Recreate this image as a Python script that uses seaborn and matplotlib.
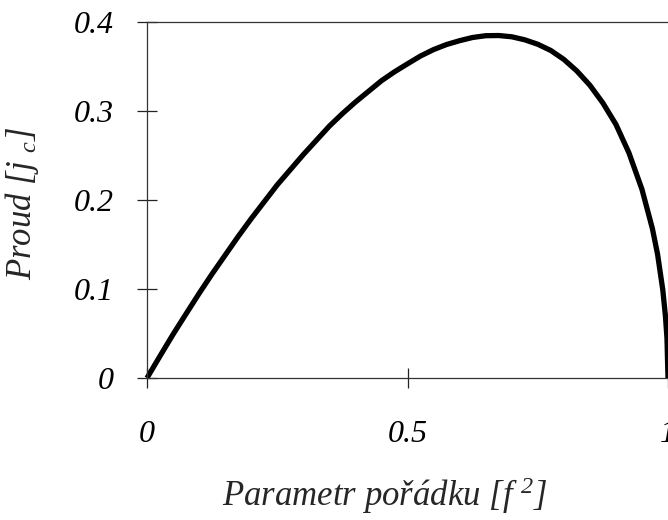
import matplotlib
matplotlib.use("Agg")
import matplotlib.pyplot as plt
import seaborn as sns
import pandas as pd

# data
order_param = [0.0, 0.025, 0.05, 0.075, 0.1, 0.125, 0.15, 0.175, 0.2, 0.225, 0.25, 0.275,
               0.3, 0.325, 0.35, 0.375, 0.4, 0.425, 0.45, 0.475, 0.5, 0.525, 0.55, 0.575,
               0.6, 0.625, 0.65, 0.675, 0.7, 0.725, 0.75, 0.775, 0.8, 0.825, 0.85, 0.875,
               0.9, 0.925, 0.95, 0.97, 0.98, 0.99, 0.995, 0.998, 1.0]
current = [0.0, 0.0247, 0.049, 0.0721, 0.095, 0.117, 0.138, 0.159, 0.179, 0.198, 0.217, 0.234,
           0.251, 0.267, 0.283, 0.297, 0.310, 0.322, 0.334, 0.344, 0.353, 0.3618, 0.369, 0.3747,
           0.379, 0.3826, 0.3846, 0.3848, 0.3834, 0.380, 0.375, 0.368, 0.358, 0.345, 0.329, 0.309,
           0.285, 0.253, 0.212, 0.168, 0.139, 0.099, 0.070, 0.045, 0.0]
x_ticks = [0, 0.5, 1]
x_tick_labels = ["0", "0.5", "1"]
y_ticks = [0, 0.1, 0.2, 0.3, 0.4]
y_tick_labels = ["0", "0.1", "0.2", "0.3", "0.4"]
x_label = "Parametr pořádku [f $^2$]"
y_label = "Proud [j $_c$]"

sns.set_style("white")
plt.rcParams["font.family"] = ["Liberation Serif", "DejaVu Serif"]
plt.rcParams["font.style"] = "italic"
plt.rcParams["mathtext.fontset"] = "custom"
plt.rcParams["mathtext.rm"] = "Liberation Serif:italic"
plt.rcParams["mathtext.it"] = "Liberation Serif:italic"
plt.rcParams["mathtext.default"] = "it"

df = pd.DataFrame({"f2": order_param, "j": current})

fig = plt.figure(figsize=(6.68, 5.2), dpi=100)
ax = fig.add_axes([147 / 668, (520 - 378) / 520, 1 - 147 / 668, (378 - 22) / 520])
sns.lineplot(data=df, x="f2", y="j", ax=ax, color="black", linewidth=3.8, sort=False,
             clip_on=False, solid_capstyle="butt")

ax.set_xlim(0, 1)
ax.set_ylim(0, 0.4)
ax.set_xticks(x_ticks)
ax.set_xticklabels(x_tick_labels)
ax.set_yticks(y_ticks)
ax.set_yticklabels(y_tick_labels)

for s in ["left", "top", "bottom"]:
    ax.spines[s].set_visible(True)
    ax.spines[s].set_color("#333333")
    ax.spines[s].set_linewidth(0.9)
ax.spines["right"].set_visible(False)

ax.tick_params(axis="both", direction="inout", length=14, width=0.9, color="#222222",
               labelsize=23, labelcolor="black")
ax.tick_params(axis="x", pad=23, bottom=True, top=False)
ax.tick_params(axis="y", pad=17, left=True, right=False)

ax.set_xlabel(x_label, fontsize=25, style="italic")
ax.set_ylabel(y_label, fontsize=25, style="italic")
ax.xaxis.set_label_coords((385 - 147) / (668 - 147), -(496 - 378) / (378 - 22))
ax.yaxis.set_label_coords(-(147 - 22) / (668 - 147), 0.49)
ax.xaxis.label.set_va("center")
ax.yaxis.label.set_va("center")

fig.savefig("out.png", dpi=100)
